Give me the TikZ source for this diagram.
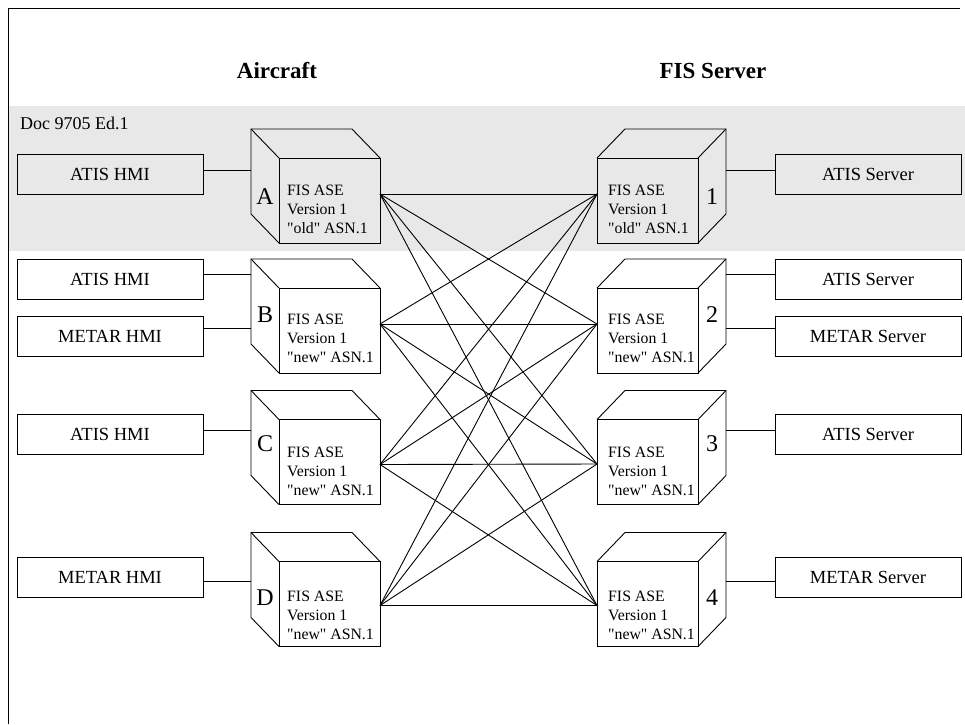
\documentclass[tikz,border=0pt]{standalone}
\usepackage{fontspec}
\setmainfont{Liberation Serif}[Ligatures=TeXOff]
\usetikzlibrary{calc}
\definecolor{bandgray}{RGB}{232,232,232}
\tikzset{
  wire/.style={line width=0.9pt, black},
  hbox/.style={draw, line width=0.9pt, minimum width=186pt, minimum height=40pt, inner sep=0pt, outer sep=0pt, font=\fontsize{18.5}{20}\selectfont},
  face/.style={draw, line width=0.9pt, minimum width=101pt, minimum height=85pt, inner sep=0pt, outer sep=0pt},
  ctext/.style={anchor=base west, inner sep=0pt, font=\fontsize{15.8}{19}\selectfont},
  bigl/.style={inner sep=0pt, font=\fontsize{24}{26}\selectfont},
  head/.style={inner sep=0pt, font=\fontsize{23}{25}\selectfont\bfseries}
}
\newcommand\cubeL[1]{%
  \coordinate (#1b) at ($(#1.north west)+(-28,-29)$);
  \draw[wire] (#1.south west) -- ($(#1.south west)+(-28,-29)$) -- (#1b) -- ($(#1.north east)+(-28,-29)$) -- (#1.north east);
  \draw[wire] (#1b) -- (#1.north west);}
\newcommand\cubeR[1]{%
  \coordinate (#1b) at ($(#1.north east)+(28,-29)$);
  \draw[wire] (#1.north west) -- ($(#1.north west)+(28,-29)$) -- (#1b) -- ($(#1.south east)+(28,-29)$) -- (#1.south east);
  \draw[wire] (#1b) -- (#1.north east);}
\newcommand\cubetext[3]{%
  \node[ctext] (#1t1) at (#2) {FIS ASE};
  \node[ctext] (#1t2) at ($(#2)+(0,19)$) {Version 1};
  \node[ctext] (#1t3) at ($(#2)+(0,38)$) {"#3" ASN.1};}
\begin{document}
\begin{tikzpicture}[x=1pt,y=-1pt]
\useasboundingbox (0,0) rectangle (965,724);
% gray band
\fill[bandgray] (9,106) rectangle (965,251);
% frame
\draw[line width=1.2pt] (8.5,724) -- (8.5,8.5) -- (960,8.5);
% headings
\node[head] (hair) at (277,71) {Aircraft};
\node[head] (hfis) at (713,71) {FIS Server};
\node[anchor=base west, inner sep=0pt, font=\fontsize{18}{20}\selectfont] (doc) at (20,129) {Doc 9705 Ed.1};
% left boxes
\node[hbox] (hA) at (110,174) {ATIS HMI};
\node[hbox] (hB1) at (110,279) {ATIS HMI};
\node[hbox] (hB2) at (110,336) {METAR HMI};
\node[hbox] (hC) at (110,434) {ATIS HMI};
\node[hbox] (hD) at (110,577) {METAR HMI};
% right boxes
\node[hbox] (s1) at (868,174) {ATIS Server};
\node[hbox] (s2a) at (868,279) {ATIS Server};
\node[hbox] (s2b) at (868,336) {METAR Server};
\node[hbox] (s3) at (868,434) {ATIS Server};
\node[hbox] (s4) at (868,577) {METAR Server};
% cube front faces
\node[face] (fA) at (329.5,200.5) {};
\node[face] (fB) at (329.5,330.5) {};
\node[face] (fC) at (329.5,462) {};
\node[face] (fD) at (329.5,604) {};
\node[face] (f1) at (647.5,200.5) {};
\node[face] (f2) at (647.5,330.5) {};
\node[face] (f3) at (647.5,462) {};
\node[face] (f4) at (647.5,604) {};
\cubeL{fA}\cubeL{fB}\cubeL{fC}\cubeL{fD}
\cubeR{f1}\cubeR{f2}\cubeR{f3}\cubeR{f4}
% cube texts
\cubetext{fA}{287,195.5}{old}
\cubetext{fB}{287,324.5}{new}
\cubetext{fC}{287,457}{new}
\cubetext{fD}{287,601.5}{new}
\cubetext{f1}{608,195.5}{old}
\cubetext{f2}{608,324.5}{new}
\cubetext{f3}{608,457}{new}
\cubetext{f4}{608,601.5}{new}
% big letters
\node[bigl] (lA) at (265,197) {A};
\node[bigl] (lB) at (265,315) {B};
\node[bigl] (lC) at (265,444) {C};
\node[bigl] (lD) at (265,598) {D};
\node[bigl] (l1) at (712,197) {1};
\node[bigl] (l2) at (712,315) {2};
\node[bigl] (l3) at (712,444) {3};
\node[bigl] (l4) at (712,598) {4};
% HMI / server links
\foreach \b/\c/\dy in {hA/fA/-4, hB1/fB/-5, hB2/fB/-8, hC/fC/-4, hD/fD/4}{
  \coordinate (t) at ($(\b.east)+(0,\dy)$);
  \draw[wire] (t) -- (t -| \c b);
}
\foreach \b/\c/\dy in {s1/f1/-4, s2a/f2/-5, s2b/f2/-8, s3/f3/-4, s4/f4/4}{
  \coordinate (t) at ($(\b.west)+(0,\dy)$);
  \draw[wire] (t) -- (t -| \c b);
}
% connection points
\coordinate (pA) at ($(fA.north east)+(0,36)$);
\coordinate (pB) at ($(fB.north east)+(0,36)$);
\coordinate (pC) at ($(fC.north east)+(0,45)$);
\coordinate (pD) at ($(fD.north east)+(0,44)$);
\coordinate (q1) at ($(f1.north west)+(0,36)$);
\coordinate (q2) at ($(f2.north west)+(0,36)$);
\coordinate (q3) at ($(f3.north west)+(0,44.5)$);
\coordinate (q4) at ($(f4.north west)+(0,44)$);
\foreach \l in {pA,pB,pC,pD}{
  \foreach \r in {q1,q2,q3,q4}{
    \draw[wire] (\l) -- (\r);
  }
}
\end{tikzpicture}
\end{document}
